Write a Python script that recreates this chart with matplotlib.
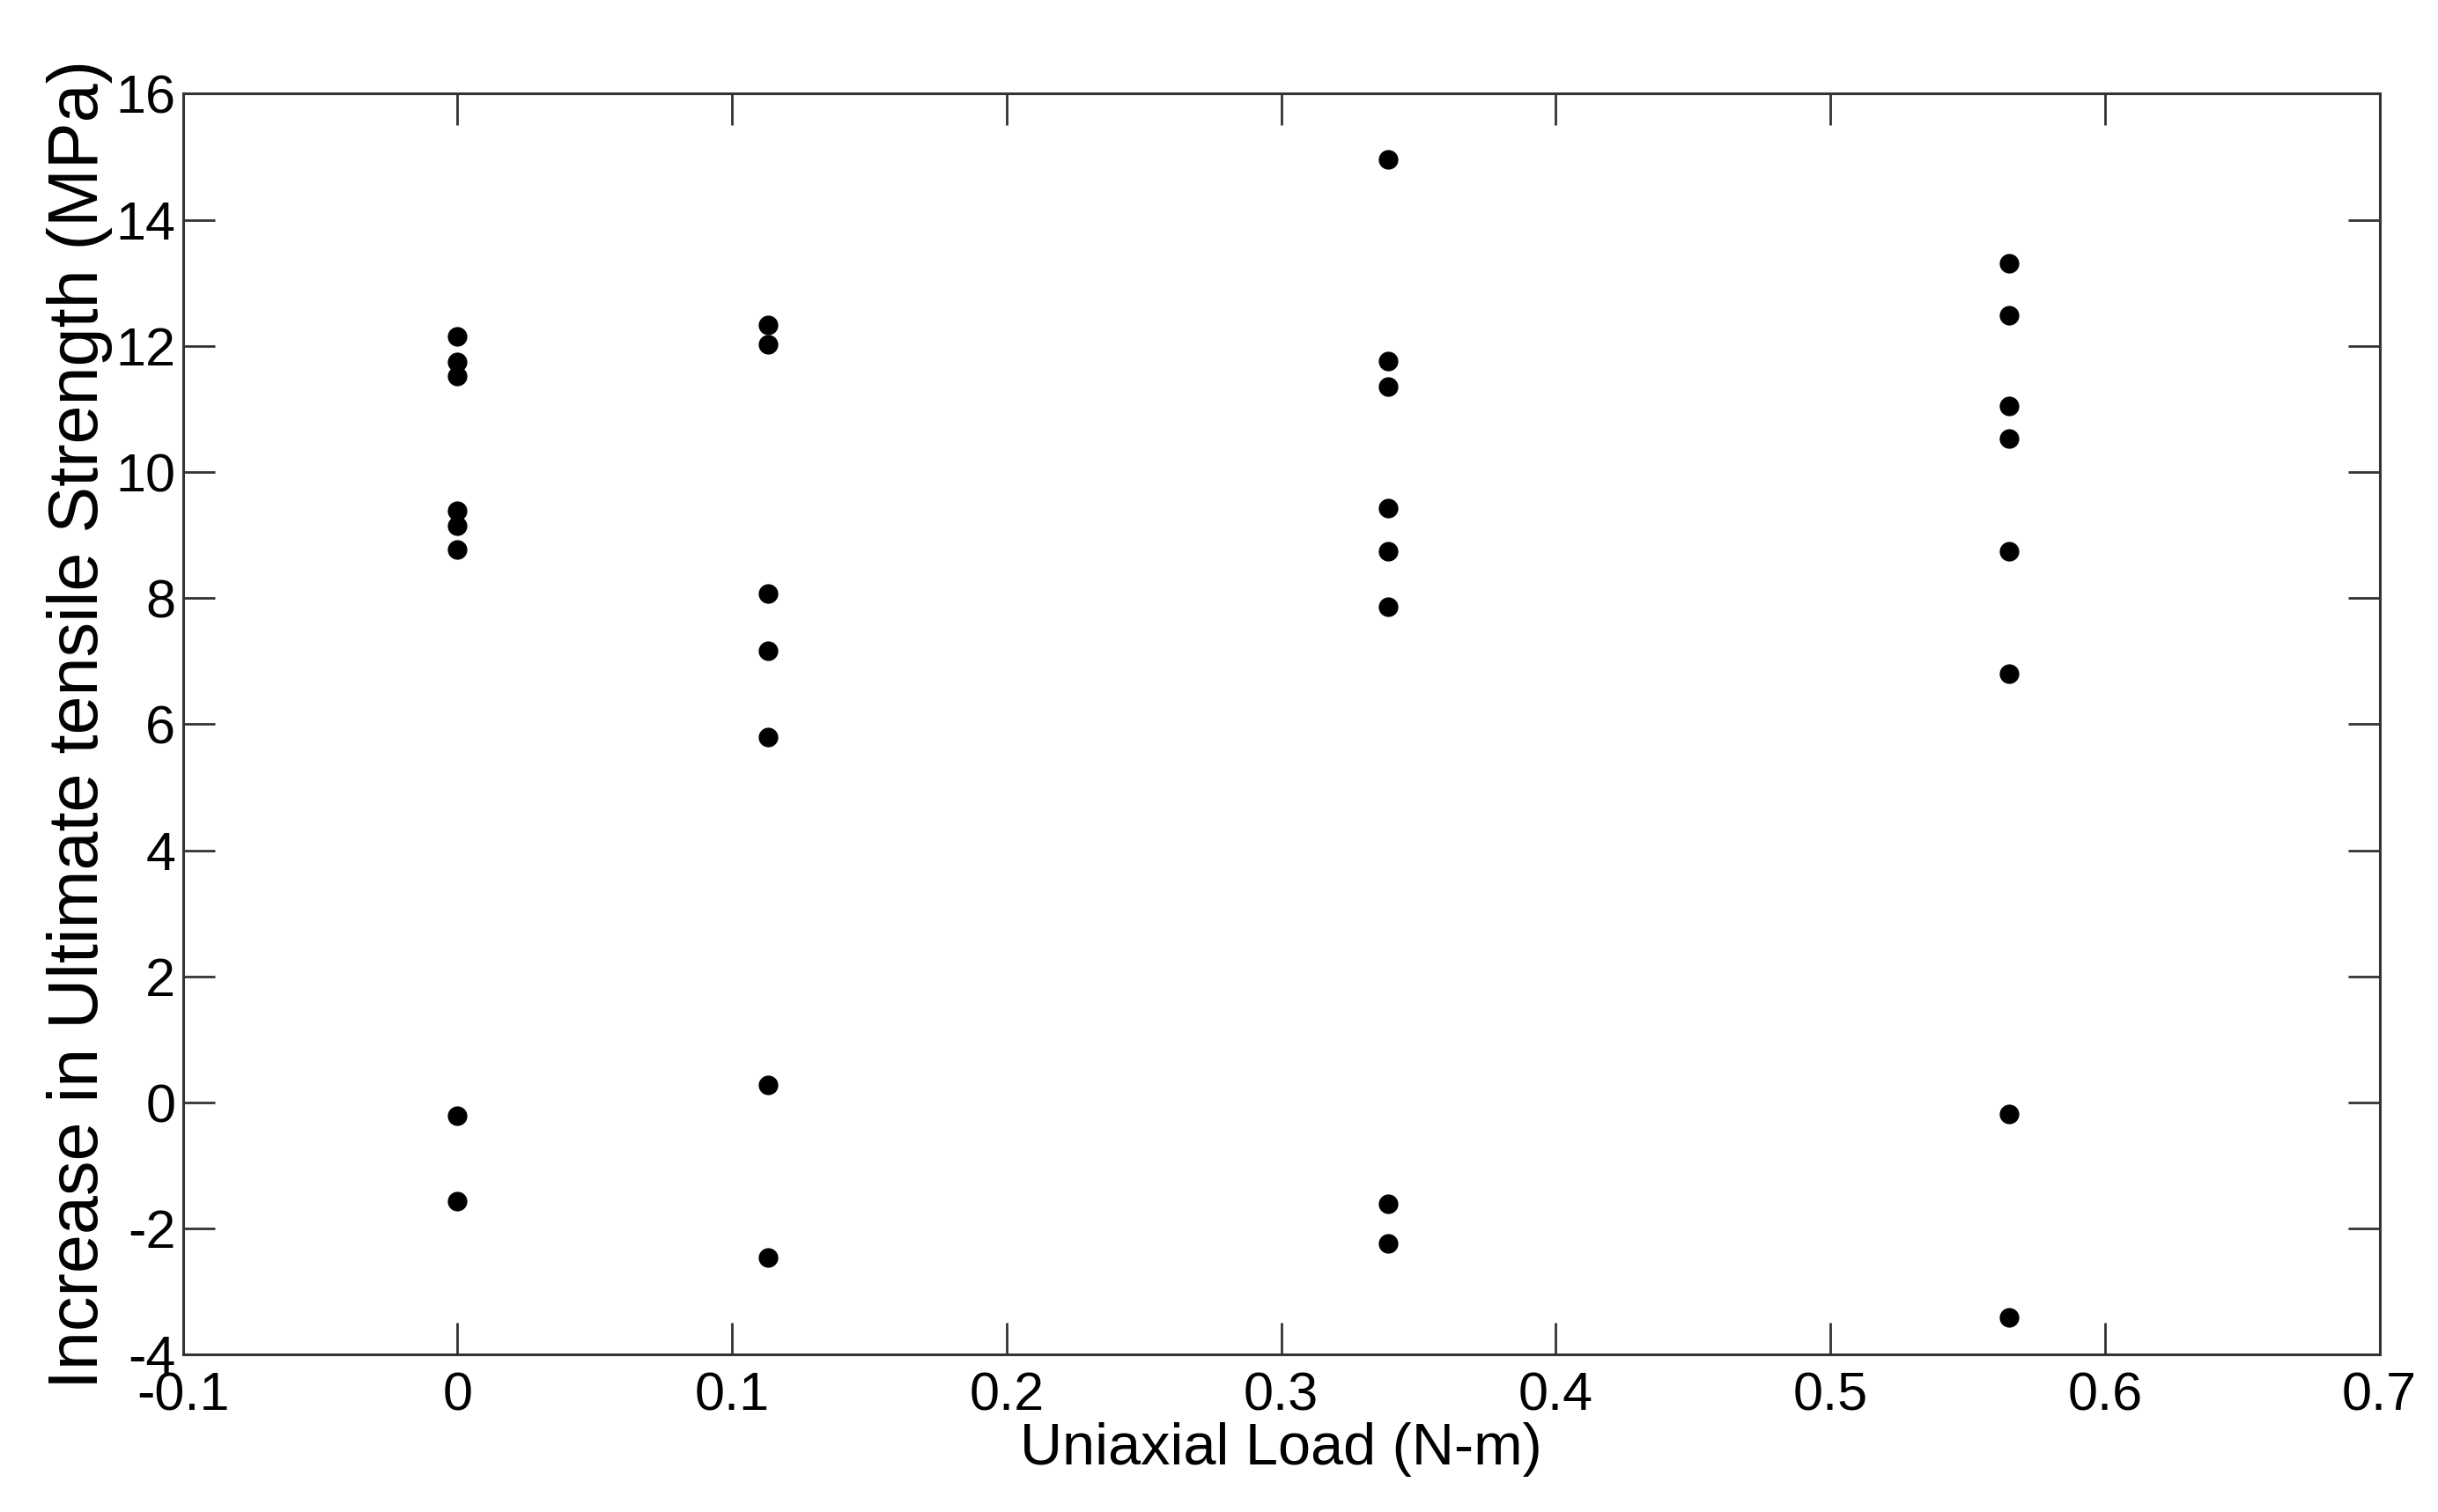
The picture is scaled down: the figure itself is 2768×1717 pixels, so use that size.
import matplotlib
matplotlib.use("Agg")
from matplotlib import pyplot as plt
import numpy as np

# data
loads = [0.0, 0.113, 0.339, 0.565]
uts_0 = [12.15, 11.74, 11.52, 9.39, 9.15, 8.77, -0.21, -1.57]
uts_1 = [12.33, 12.03, 8.08, 7.17, 5.80, 0.28, -2.46]
uts_2 = [14.96, 11.76, 11.36, 9.43, 8.74, 7.87, -1.60, -2.23]
uts_3 = [13.31, 12.49, 11.05, 10.53, 8.74, 6.80, -0.18, -3.41]
xticks = [-0.1, 0, 0.1, 0.2, 0.3, 0.4, 0.5, 0.6, 0.7]
xtick_labels = ['-0.1', '0', '0.1', '0.2', '0.3', '0.4', '0.5', '0.6', '0.7']
yticks = [-4, -2, 0, 2, 4, 6, 8, 10, 12, 14, 16]
ytick_labels = ['-4', '-2', '0', '2', '4', '6', '8', '10', '12', '14', '16']

plt.rcParams['font.family'] = ['Liberation Sans', 'DejaVu Sans']

fig = plt.figure(figsize=(27.68, 17.17), dpi=100)
ax = fig.add_axes([0.075, 0.104, 0.901, 0.834])

for x, vals in zip(loads, [uts_0, uts_1, uts_2, uts_3]):
    ax.plot([x] * len(vals), vals, 'o', color='black', markersize=15, linestyle='none')

ax.set_xlim(-0.1, 0.7)
ax.set_ylim(-4, 16)
ax.set_xticks(xticks)
ax.set_xticklabels(xtick_labels)
ax.set_yticks(yticks)
ax.set_yticklabels(ytick_labels)
ax.tick_params(direction='in', length=26, width=2, top=True, right=True,
               labelsize=44, color='#333333')
ax.tick_params(axis='x', pad=14)
ax.tick_params(axis='y', pad=6)
for s in ax.spines.values():
    s.set_linewidth(2.2)
    s.set_color('#333333')

ax.set_xlabel('Uniaxial Load (N-m)', fontsize=48, labelpad=0)
ax.set_ylabel('Increase in Ultimate tensile Strength (MPa)', fontsize=57, labelpad=2)

plt.savefig('out.png', dpi=100)
